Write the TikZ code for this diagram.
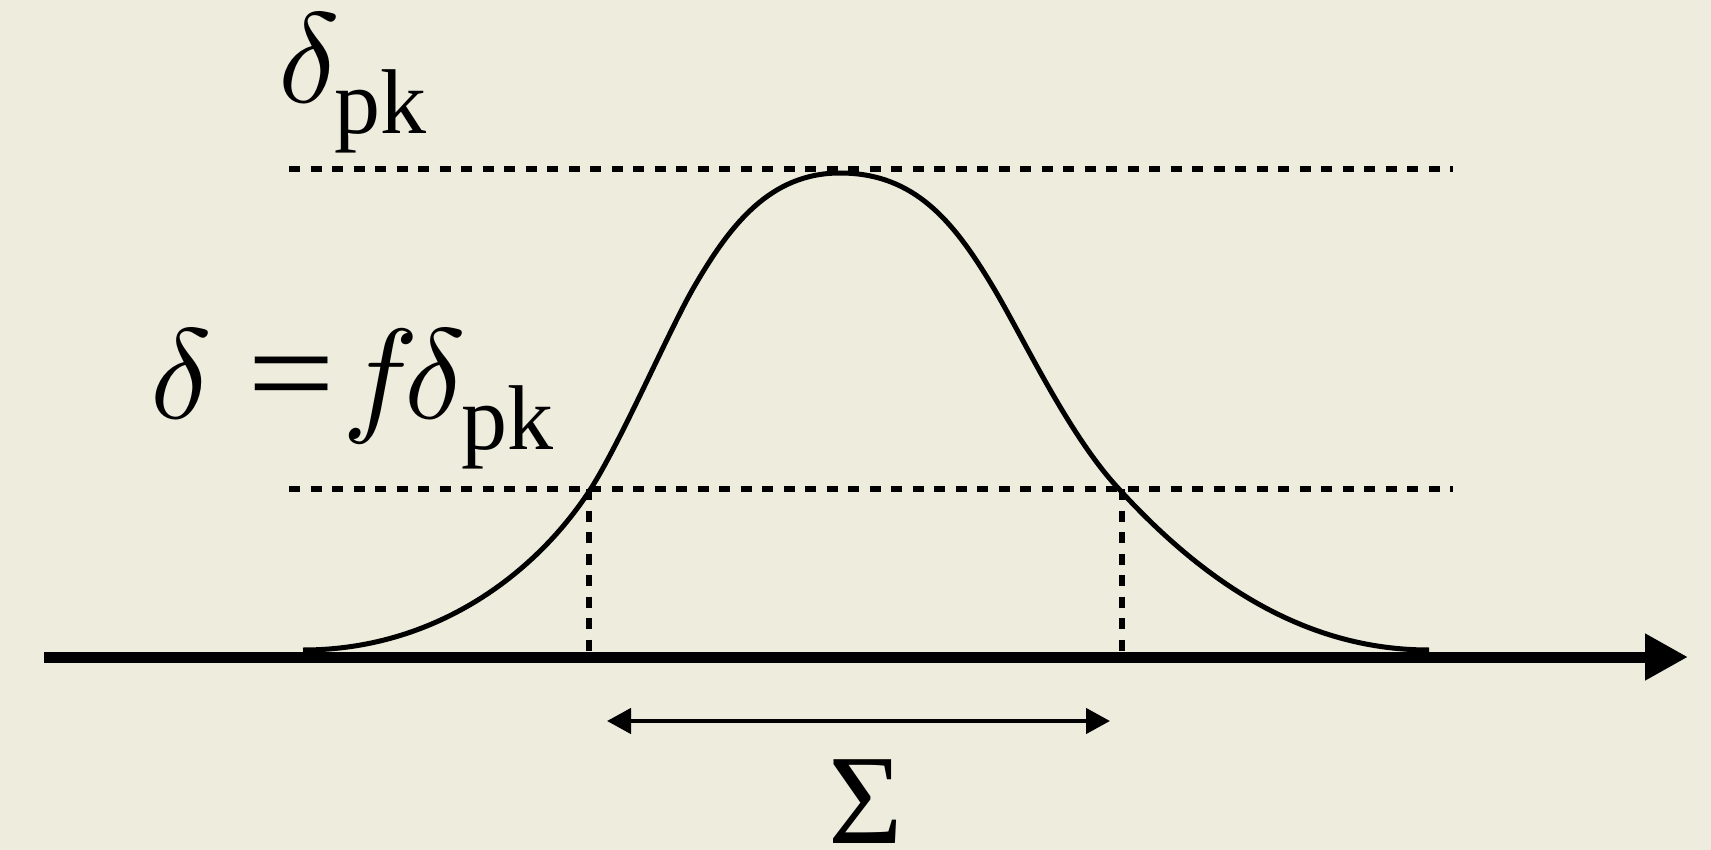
\documentclass[tikz,border=0pt]{standalone}
\usepackage{fontspec}
\setmainfont{Liberation Serif}[ItalicFont={Liberation Serif Italic}]
\usepackage{tikz}
\usetikzlibrary{arrows.meta,positioning}
\definecolor{paper}{HTML}{EEECDC}
\definecolor{ink}{HTML}{000000}
\newcommand{\lowpk}{\hspace{-5.5pt}\raisebox{-31pt}{\fontsize{92}{110}\selectfont pk}}
\newcommand{\wideeq}{\scalebox{1.22}[1.05]{=}}
\newcommand{\hugesym}[1]{\scalebox{12.8}{\fontsize{10}{12}\selectfont$#1$}}
\tikzset{
  lbl/.style={inner sep=0pt, text=ink, font=\fontsize{128}{150}\selectfont},
  axisline/.style={line width=11pt, draw=ink, -{Triangle[length=43pt,width=44pt]}},
  guide/.style={line width=5.5pt, draw=ink, dash pattern=on 11pt off 10.5pt},
  pulse/.style={line width=5pt, draw=ink, line join=round},
  span/.style={line width=4.5pt, draw=ink, {Triangle[length=24pt,width=25pt]}-{Triangle[length=24pt,width=25pt]}},
}
\begin{document}
\begin{tikzpicture}[x=1pt, y=-1pt]
  \fill[paper] (0,0) rectangle (1711,850);
  \useasboundingbox (0,0) rectangle (1711,850);

  % reference levels
  \coordinate (pkL) at (289,169);
  \coordinate (pkR) at (1453,169);
  \coordinate (fL)  at (289,489);
  \coordinate (fR)  at (1453,489);
  \draw[guide] (pkL) -- (pkR);
  \draw[guide] (fL) -- (fR);

  % axis
  \coordinate (o)   at (44,657);
  \coordinate (tip) at (1688,657);
  \draw[axisline] (o) -- (tip);

  % pulse
  \draw[pulse] (303,650) .. controls (433,650) and (534,576) .. (590,490)
    .. controls (622,440) and (669,330) .. (694,287)
    .. controls (730,225) and (770,173) .. (840,173)
    .. controls (915,173) and (954,222) .. (993,287)
    .. controls (1024,339) and (1068,434) .. (1118,488)
    .. controls (1217,597) and (1319,650) .. (1429,650);

  % width markers
  \coordinate (cL) at (589,489);
  \coordinate (cR) at (1122,489);
  \draw[guide] (cL) -- (cL |- 0,652);
  \draw[guide] (cR) -- (cR |- 0,652);

  \coordinate (wL) at (607,721);
  \coordinate (wR) at (1110,721);
  \draw[span] (wL) -- (wR);

  % labels
  \node[lbl, anchor=base west] (peak) at (278,103) {\hugesym{\delta}\lowpk};
  \node[lbl, anchor=base west] (frac) at (150,418)
    {\hugesym{\delta}\hspace{36pt}\wideeq\hspace{6.5pt}\hugesym{f}\hspace{-14pt}\hugesym{\delta}\lowpk};
  \node[lbl, anchor=base] (width) at (866,843) {Σ};
\end{tikzpicture}
\end{document}
